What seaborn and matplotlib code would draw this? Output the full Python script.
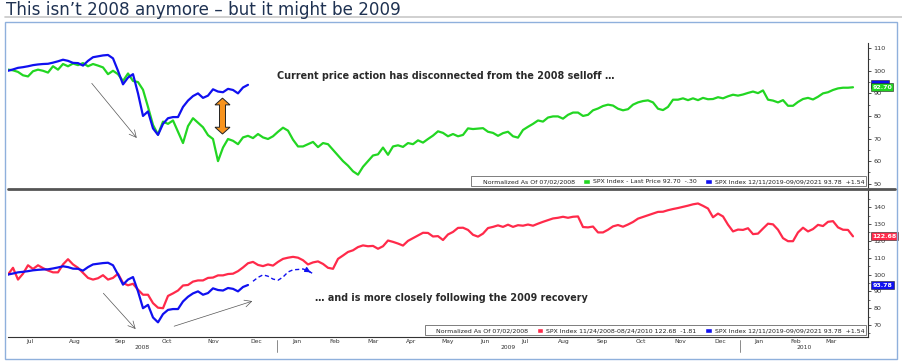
import numpy as np
import seaborn as sns
import matplotlib.pyplot as plt
from matplotlib.patches import Patch, Polygon, Rectangle
from matplotlib.lines import Line2D
from matplotlib.ticker import MultipleLocator, FixedLocator

# one chart step is ~2.5 trading days, step 0 = 07/02/2008 (normalised = 100)
green_2008 = [
    100.5, 100.2, 99.5, 98.0, 97.5, 99.8, 100.5, 100.0, 99.2, 102.0,
    100.5, 103.0, 102.0, 103.2, 102.5, 103.4, 102.0, 103.0, 102.3, 101.5,
    98.5, 100.0, 98.5, 95.5, 98.8, 95.5, 95.0, 91.6, 84.0, 76.0,
    71.8, 77.5, 76.5, 78.0, 73.0, 68.0, 75.5, 79.0, 77.0, 75.0,
    71.5, 69.8, 60.0, 66.0, 69.8, 69.0, 67.5, 70.5, 71.2, 70.2,
    72.0, 70.5, 69.8, 71.0, 73.0, 74.8, 73.5, 69.5, 66.5, 66.5,
    67.5, 68.5, 66.2, 68.0, 67.5, 65.0, 62.5, 60.0, 58.0, 55.5,
    54.0, 57.5, 60.0, 62.5, 63.0, 66.0, 62.8, 66.5, 67.0, 66.3,
    68.0, 67.5, 69.2, 68.2, 69.8, 71.3, 73.2, 72.5, 71.0, 72.0,
    71.0, 71.6, 74.5, 74.2, 74.4, 74.6, 73.0, 72.5, 71.2, 72.4,
    73.0, 71.0, 70.4, 73.8, 75.2, 76.5, 78.0, 77.5, 79.3, 79.8,
    79.8, 78.8, 80.5, 81.5, 81.5, 80.0, 80.5, 82.5, 83.3, 84.4,
    85.0, 84.6, 83.2, 82.5, 83.0, 85.0, 86.0, 86.6, 86.9, 86.0,
    83.2, 82.6, 84.0, 87.2, 87.2, 87.8, 87.0, 87.8, 87.0, 88.0,
    87.4, 87.5, 88.3, 87.8, 88.7, 89.4, 89.0, 89.5, 90.2, 90.8,
    90.1, 91.3, 87.2, 86.8, 86.0, 87.0, 84.5, 84.5, 86.2, 87.5,
    88.0, 87.3, 88.5, 90.0, 90.5, 91.5, 92.2, 92.5, 92.5, 92.7]

blue_2020 = [
    100.0, 100.6, 101.3, 101.6, 102.0, 102.5, 102.8, 103.0, 103.1, 103.6,
    104.2, 104.9, 104.4, 103.5, 103.4, 102.3, 104.4, 106.0, 106.4, 106.8,
    107.0, 105.5, 100.0, 94.0, 97.0, 98.5, 90.0, 80.0, 82.0, 74.5,
    71.6, 76.5, 79.0, 79.5, 79.5, 84.0, 86.8, 88.8, 90.0, 88.0,
    89.0, 91.8, 90.8, 90.5, 92.0, 91.5, 90.0, 92.6, 93.78]

red_2009 = [
    100.0, 104.0, 97.0, 100.5, 105.5, 103.3, 105.5, 103.8, 102.4, 101.3,
    101.3, 106.0, 109.1, 106.0, 104.0, 101.0, 98.0, 97.0, 97.8, 99.6,
    97.0, 98.0, 100.5, 95.0, 93.6, 94.5, 91.0, 88.0, 88.0, 83.0,
    80.3, 80.0, 87.3, 88.8, 90.5, 93.5, 93.8, 95.8, 96.5, 96.5,
    98.0, 98.2, 99.5, 99.5, 100.3, 100.5, 102.0, 104.2, 106.7, 107.5,
    105.7, 105.0, 106.0, 105.3, 107.5, 109.3, 110.0, 110.5, 110.0, 108.5,
    106.0, 107.2, 107.8, 106.3, 104.0, 103.4, 109.3, 111.3, 113.4, 114.4,
    116.3, 117.3, 116.8, 117.0, 115.3, 116.8, 120.2, 119.4, 118.4, 117.2,
    120.0, 121.6, 123.2, 124.8, 124.7, 122.6, 122.8, 120.5, 123.8, 125.3,
    127.7, 127.8, 126.5, 123.6, 122.5, 124.3, 127.6, 128.3, 129.2, 128.3,
    129.6, 128.3, 129.3, 129.0, 129.7, 129.0, 130.2, 131.3, 132.3, 133.3,
    133.7, 134.3, 133.7, 134.3, 134.5, 128.2, 128.0, 128.5, 125.0, 125.0,
    126.6, 128.6, 129.4, 128.4, 129.7, 131.2, 133.2, 134.2, 135.2, 136.2,
    137.2, 137.3, 138.2, 138.9, 139.5, 140.2, 140.9, 141.7, 142.2, 140.8,
    139.2, 134.0, 136.2, 134.5, 129.6, 125.6, 126.7, 126.5, 127.5, 124.0,
    124.3, 127.3, 130.2, 129.8, 126.6, 121.6, 119.8, 119.8, 125.0, 127.8,
    125.6, 127.0, 129.5, 128.8, 131.3, 131.7, 128.0, 126.6, 126.5, 122.68]

# hand-drawn dashed projection of the blue line (bottom panel)
blue_path_start = 49
blue_path = [96.0, 98.3, 99.8, 99.0, 97.3, 96.6, 98.5, 101.5, 102.8, 103.0,
             103.3, 102.2, 100.5]

months = ["Jul", "Aug", "Sep", "Oct", "Nov", "Dec",
          "Jan", "Feb", "Mar", "Apr", "May", "Jun", "Jul", "Aug", "Sep", "Oct", "Nov", "Dec",
          "Jan", "Feb", "Mar"]
month_edges = [0, 8.8, 18, 27, 36.4, 45.6, 53.8, 61.8, 69, 77, 84.4, 91.4,
               99.4, 107.4, 115, 122.8, 130.4, 138.4, 146.4, 154, 161, 168.4]
years = ["2008", "2009", "2010"]
year_edges = [0, 53.8, 146.4, 172]

top_legend = ["Normalized As Of 07/02/2008",
              "SPX Index - Last Price 92.70  -.30",
              "SPX Index 12/11/2019-09/09/2021 93.78  +1.54"]
bot_legend = ["Normalized As Of 07/02/2008",
              "SPX Index 11/24/2008-08/24/2010 122.68  -1.81",
              "SPX Index 12/11/2019-09/09/2021 93.78  +1.54"]

GREEN = "#22d622"
BLUE = "#1010f0"
RED = "#ff2a4a"
ORANGE = "#f7931e"
AXC = "#333333"

sns.set_style("white")
plt.rcParams["font.family"] = ["DejaVu Sans"]

W, H = 902, 362
fig = plt.figure(figsize=(W / 100, H / 100), dpi=100)

fig.text(6 / W, 1 - 10 / H, "This isn\u2019t 2008 anymore \u2013 but it might be 2009",
         fontsize=12.1, color="#1f3252", va="center", ha="left")
fig.add_artist(Line2D([5 / W, 1], [1 - 17 / H] * 2, color="#c8c8c8", lw=1.2))
fig.add_artist(Rectangle((5 / W, 1 - 359 / H), 892 / W, 337 / H, transform=fig.transFigure,
                         fill=False, edgecolor="#8fb0dc", lw=1))

ax_top = fig.add_axes([8 / W, 1 - 188 / H, 860 / W, 145 / H])
ax_bot = fig.add_axes([8 / W, 1 - 337 / H, 860 / W, 147 / H])

sns.lineplot(x=np.arange(len(green_2008)), y=green_2008, ax=ax_top, color=GREEN, lw=1.6)
sns.lineplot(x=np.arange(len(blue_2020)), y=blue_2020, ax=ax_top, color=BLUE, lw=1.6)
sns.lineplot(x=np.arange(len(red_2009)), y=red_2009, ax=ax_bot, color=RED, lw=1.6)
sns.lineplot(x=np.arange(len(blue_2020)), y=blue_2020, ax=ax_bot, color=BLUE, lw=1.6)
path_x = np.arange(len(blue_path)) + blue_path_start
sns.lineplot(x=path_x, y=blue_path, ax=ax_bot, color=BLUE, lw=1.0, linestyle=(0, (3, 2)))
ax_bot.annotate("", xy=(path_x[-1], blue_path[-1]), xytext=(path_x[-2], blue_path[-2]),
                arrowprops=dict(arrowstyle="-|>,head_length=0.3,head_width=0.15",
                                color=BLUE, lw=1.0))

ax_top.set_ylim(48.1, 112.3)
ax_bot.set_ylim(62.9, 150.2)
for ax, lo, hi in [(ax_top, 50, 110), (ax_bot, 70, 140)]:
    ax.set_xlim(0, 172)
    ax.set_facecolor("none")
    for s in ["top", "left", "bottom"]:
        ax.spines[s].set_visible(False)
    ax.spines["right"].set_color(AXC)
    ax.spines["right"].set_linewidth(0.8)
    ax.yaxis.tick_right()
    ax.set_yticks(np.arange(lo, hi + 1, 10))
    ax.yaxis.set_minor_locator(MultipleLocator(5))
    ax.tick_params(axis="y", which="major", length=2.5, width=0.6, colors=AXC,
                   labelsize=4.6, pad=1.5)
    ax.tick_params(axis="y", which="minor", length=1.5, width=0.5, colors=AXC)
    ax.set_xlabel("")
    ax.set_ylabel("")

ax_top.set_xticks([])

# bottom x axis: month labels centred in each month, ticks at month edges
ax_bot.spines["bottom"].set_visible(True)
ax_bot.spines["bottom"].set_color(AXC)
ax_bot.spines["bottom"].set_linewidth(0.8)
centres = [(a + b) / 2 for a, b in zip(month_edges[:-1], month_edges[1:])]
ax_bot.set_xticks(centres)
ax_bot.set_xticklabels(months)
ax_bot.xaxis.set_minor_locator(FixedLocator(month_edges[1:]))
ax_bot.tick_params(axis="x", which="major", length=0, labelsize=4.3, colors=AXC, pad=1.2)
ax_bot.tick_params(axis="x", which="minor", length=2.5, width=0.5, colors=AXC)
xtr = ax_bot.get_xaxis_transform()
for name, a, b in zip(years, year_edges[:-1], year_edges[1:]):
    ax_bot.text((a + b) / 2, -0.07, name, transform=xtr, fontsize=4.3, color=AXC,
                ha="center", va="center")
for e in year_edges[1:-1]:
    ax_bot.plot([e, e], [-0.02, -0.1], transform=xtr, color="#777777", lw=0.6, clip_on=False)

# thick separator between the two panels
fig.add_artist(Line2D([8 / W, 895 / W], [1 - 189 / H] * 2, color="#555555", lw=2))

# legends
def add_legend(ax, labels, color):
    handles = [Patch(facecolor="none", edgecolor="none"), Patch(facecolor=color),
               Patch(facecolor=BLUE)]
    leg = ax.legend(handles, labels, ncol=3, loc="lower right", bbox_to_anchor=(1, 0.0),
                    fontsize=4.5, frameon=True, fancybox=False, edgecolor="#444444",
                    handlelength=1.0, handleheight=0.9, handletextpad=0.5,
                    columnspacing=1.4, borderpad=0.35, borderaxespad=0.25)
    leg.get_frame().set_linewidth(0.6)
    for t in leg.get_texts():
        t.set_color("#222222")

add_legend(ax_top, top_legend, GREEN)
add_legend(ax_bot, bot_legend, RED)

# last-value tags on the right axis
def tag(ax, v, text, color, z):
    ax.annotate(text, xy=(1, v), xycoords=ax.get_yaxis_transform(), xytext=(3, 0),
                textcoords="offset points", ha="left", va="center", fontsize=4.5,
                color="white", fontweight="bold", annotation_clip=False, zorder=z,
                bbox=dict(boxstyle="square,pad=0.25", fc=color, ec="#222222", lw=0.4))

# the blue tag in the top panel sits almost fully behind the green one
tag(ax_top, blue_2020[-1] + 0.3, "       ", BLUE, 5)
tag(ax_top, green_2008[-1], "92.70", GREEN, 6)
tag(ax_bot, red_2009[-1], "122.68", RED, 5)
tag(ax_bot, blue_2020[-1], "93.78", BLUE, 5)

# commentary
ax_top.text(0.509, 0.772, "Current price action has disconnected from the 2008 selloff \u2026",
            transform=ax_top.transAxes, fontsize=6.9, fontweight="bold", color="#2a2a2a",
            ha="center", va="center")
ax_bot.text(0.515, 0.267, "\u2026 and is more closely following the 2009 recovery",
            transform=ax_bot.transAxes, fontsize=6.9, fontweight="bold", color="#2a2a2a",
            ha="center", va="center")

arrow = dict(arrowstyle="->,head_length=0.5,head_width=0.25", color="#555555", lw=0.5)
ax_top.annotate("", xy=(26.1, 69.3), xytext=(16.4, 95.4), arrowprops=arrow)
ax_bot.annotate("", xy=(25.9, 66.4), xytext=(18.7, 90.1), arrowprops=arrow)
ax_bot.annotate("", xy=(49.4, 84.7), xytext=(32.7, 68.8), arrowprops=arrow)

# orange double-headed arrow marking the gap
x0, top, bot = 42.9, 87.9, 72.0
sh, hh, hl = 0.6, 1.5, 3.0
verts = [(x0, top), (x0 + hh, top - hl), (x0 + sh, top - hl), (x0 + sh, bot + hl),
         (x0 + hh, bot + hl), (x0, bot), (x0 - hh, bot + hl), (x0 - sh, bot + hl),
         (x0 - sh, top - hl), (x0 - hh, top - hl)]
ax_top.add_patch(Polygon(verts, closed=True, facecolor=ORANGE, edgecolor="#222222", lw=0.7,
                         zorder=4))

fig.savefig("out.png", dpi=100)
